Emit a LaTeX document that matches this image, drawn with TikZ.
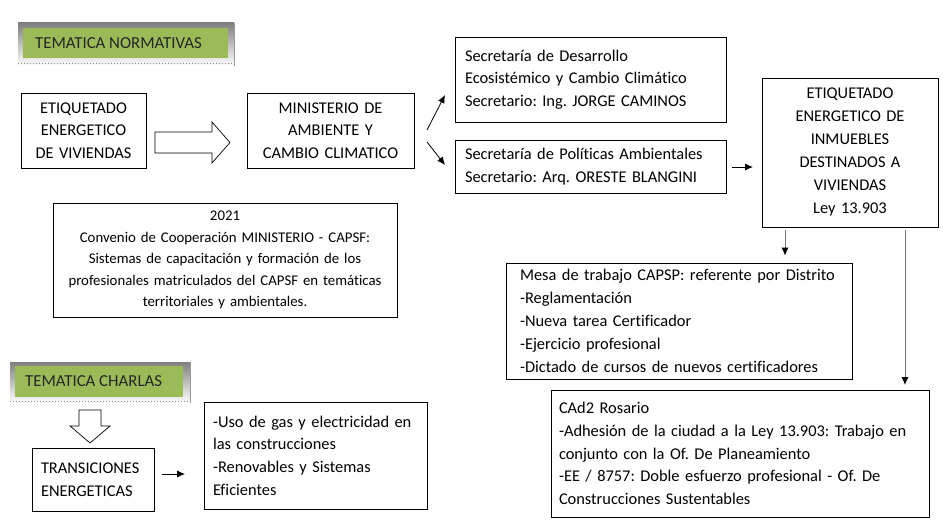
\documentclass[tikz,border=0pt]{standalone}
\usepackage{fontspec}
\setmainfont{Carlito}[Ligatures=NoCommon]
\usetikzlibrary{arrows.meta,calc}
\definecolor{olive}{HTML}{9BBB59}
\definecolor{shade}{HTML}{ECECEC}
\frenchspacing
\tikzset{
  box/.style={draw=black, line width=0.8pt, rectangle, inner ysep=0pt, font=\fontsize{16.4}{22.6}\selectfont},
  cbox/.style={box, align=center},
  lbox/.style={box, align=left},
  conn/.style={-{Latex[length=8pt,width=7pt]}, line width=0.8pt},
  gconn/.style={-{Latex[length=8pt,width=7pt,fill=black,color=black]}, line width=0.8pt, draw=black!55},
  tag/.style={fill=olive, inner sep=0pt, anchor=west, font=\fontsize{16.8}{18}\selectfont, text=black!85},
  blockarrow/.style={draw=black, line width=0.7pt, fill=white}
}
\begin{document}
\frenchspacing
\begin{tikzpicture}[x=1pt,y=-1pt]
\useasboundingbox (0,0) rectangle (943,527);
% Tag: TEMATICA NORMATIVAS
\fill[shade] (18,23) rectangle (234,66);
\draw[black!45, dotted, line width=1pt] (18,64) -- (235,64);
\draw[black!40, line width=0.8pt] (234,23) -- (234,66);
\fill[olive] (23,28) rectangle (228,58);
\node[tag] (tn) at (35,43) {TEMATICA NORMATIVAS};
% Tag: TEMATICA CHARLAS
\fill[shade] (10,362) rectangle (190,403);
\draw[black!45, dotted, line width=1pt] (10,401) -- (190,401);
\draw[black!40, line width=0.8pt] (190,362) -- (190,403);
\fill[olive] (15,366) rectangle (183,397);
\node[tag] (tc) at (25,381.5) {TEMATICA CHARLAS};

% Boxes
\node[cbox, text width=115pt, inner xsep=5pt, minimum height=75pt] (etq) at (83.5,130.5) {ETIQUETADO\\ENERGETICO\\DE VIVIENDAS};
\node[cbox, text width=157pt, inner xsep=5pt, minimum height=75pt] (min) at (330.5,130.5) {MINISTERIO DE\\AMBIENTE Y\\CAMBIO CLIMATICO};
\node[lbox, text width=251pt, inner xsep=10pt, minimum height=85pt] (sd) at (590.5,79.5) {Secretaría de Desarrollo\\Ecosistémico y Cambio Climático\\Secretario: Ing. JORGE CAMINOS};
\node[lbox, text width=251pt, inner xsep=10pt, minimum height=53pt] (sp) at (590.5,166.5) {Secretaría de Políticas Ambientales\\Secretario: Arq. ORESTE BLANGINI};
\node[cbox, text width=166pt, inner xsep=5pt, minimum height=149pt, font=\fontsize{16.4}{23}\selectfont] (ei) at (850,152.5) {ETIQUETADO\\ENERGETICO DE\\INMUEBLES\\DESTINADOS A\\VIVIENDAS\\Ley 13.903};
\node[cbox, text width=338pt, inner xsep=3pt, minimum height=114pt, font=\fontsize{14.8}{21.4}\selectfont] (conv) at (225,260) {2021\\Convenio de Cooperación MINISTERIO - CAPSF:\\Sistemas de capacitación y formación de los\\profesionales matriculados del CAPSF en temáticas\\territoriales y ambientales.};
\node[lbox, text width=318pt, inner xsep=14pt, minimum height=116pt, font=\fontsize{16.4}{23}\selectfont] (mesa) at (679,321) {Mesa de trabajo CAPSP: referente por Distrito\\-Reglamentación\\-Nueva tarea Certificador\\-Ejercicio profesional\\-Dictado de cursos de nuevos certificadores};
\node[lbox, text width=362pt, inner xsep=8pt, minimum height=127pt] (cad) at (740,453.5) {CAd2 Rosario\\-Adhesión de la ciudad a la Ley 13.903: Trabajo en\\conjunto con la Of. De Planeamiento\\-EE / 8757: Doble esfuerzo profesional - Of. De\\Construcciones Sustentables};
\node[lbox, text width=104pt, inner xsep=9pt, minimum height=63pt] (trans) at (93,479.5) {TRANSICIONES\\ENERGETICAS};
\node[lbox, text width=205pt, inner xsep=9pt, minimum height=107pt] (uso) at (315.5,455.5) {-Uso de gas y electricidad en\\las construcciones\\-Renovables y Sistemas\\Eficientes};

% Block arrows
\draw[blockarrow] (155,132) -- (212,132) -- (212,122) -- (230,142.5) -- (212,163) -- (212,153) -- (155,153) -- cycle;
\draw[blockarrow] (79,410) -- (101,410) -- (101,426) -- (110,426) -- (90,443) -- (70,426) -- (79,426) -- cycle;

% Connector end points
\coordinate (a1s) at (427,130);
\coordinate (a1e) at (445,95);
\coordinate (a2s) at (427,142);
\coordinate (a2e) at (445,165);
\coordinate (a3s) at (732,167);
\coordinate (a3e) at (753,167);
\coordinate (a4s) at (162,474);
\coordinate (a4e) at (185,474);
\coordinate (a5s) at (785,230);
\coordinate (a6s) at (905,230);
\coordinate (a6e) at (905,385);

% Connectors
\draw[conn] (a1s) -- (a1e);
\draw[conn] (a2s) -- (a2e);
\draw[conn] (a3s) -- (a3e);
\draw[conn] (a4s) -- (a4e);
\draw[gconn] (a5s) -- ($(mesa.north -| a5s)+(0,-7)$);
\draw[gconn] (a6s) -- (a6e);
\end{tikzpicture}
\end{document}
